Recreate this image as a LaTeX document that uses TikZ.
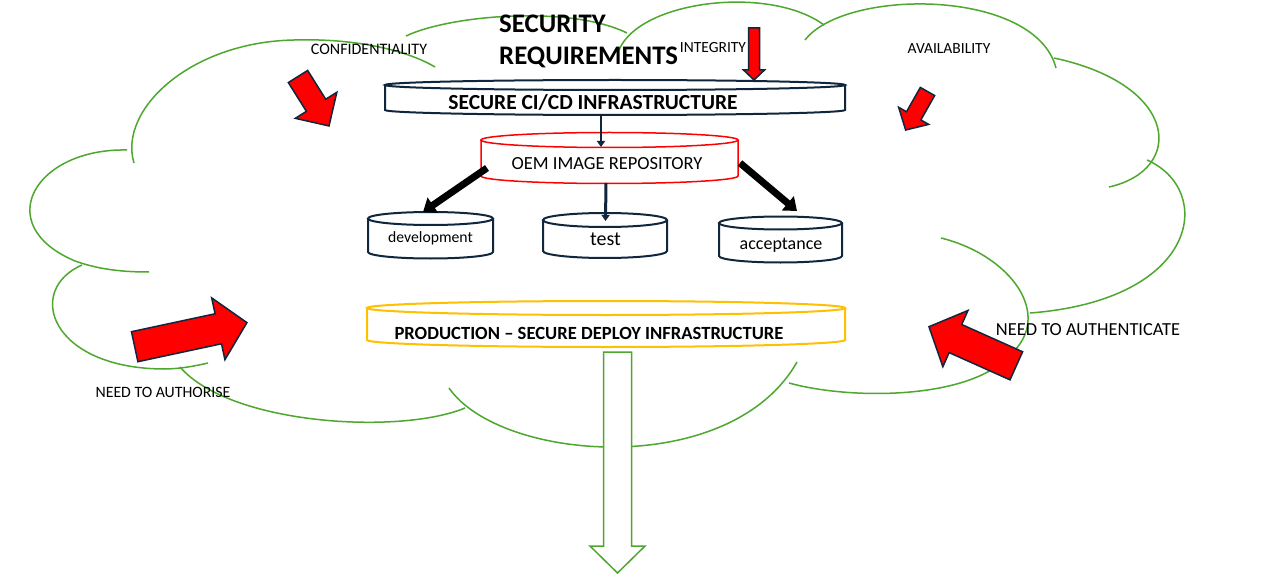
\documentclass[tikz,border=0pt]{standalone}
\usepackage{fontspec}
\setmainfont{Carlito}
\usetikzlibrary{arrows.meta,calc}
\definecolor{cloudgreen}{HTML}{4EA72E}
\definecolor{navy}{HTML}{10263D}
\definecolor{gold}{HTML}{FFC000}
% block arrow: x, y (tail centre), angle, length, shaft width, head width, head length, style
\newcommand{\blkarrow}[8]{%
  \begin{scope}[shift={(#1,#2)},rotate=#3]
    \draw[#8] (0,{-#5/2}) -- ({#4-#7},{-#5/2}) -- ({#4-#7},{-#6/2}) -- (#4,0)
      -- ({#4-#7},{#6/2}) -- ({#4-#7},{#5/2}) -- (0,{#5/2}) -- cycle;
  \end{scope}}
% cylinder around a named box node: name, half width, y radius, style
\newcommand{\drawcyl}[4]{%
  \draw[#4] (#1.north west) -- (#1.south west)
    arc[start angle=180,end angle=360,x radius=#2pt,y radius=#3pt] -- (#1.north east);
  \draw[#4] (#1.north) ellipse[x radius=#2pt,y radius=#3pt];}
\tikzset{
  cloudline/.style={draw=cloudgreen,line width=1.5pt},
  cylbox/.style={inner sep=0pt,outer sep=0pt,draw=none},
  lbl/.style={inner sep=0pt,anchor=base,text=black},
  redarrow/.style={fill=red,draw=navy,line width=1.5pt,line join=miter},
  thinnavy/.style={draw=navy,line width=2pt,-{Triangle[width=8pt,length=6pt]}},
  thickblack/.style={draw=black,line width=7pt,-{Triangle[width=18pt,length=12pt]}}
}
\begin{document}
\begin{tikzpicture}[x=1pt,y=-1pt]
\useasboundingbox (0,0) rectangle (1271,588);
\fill[white] (0,0) rectangle (1271,588);
% ---- cloud ----
\draw[cloudline] (134,163) .. controls (118,110) and (190,42) .. (294,40) .. controls (360,38) and (410,52) .. (435,67);
\draw[cloudline] (406,36) .. controls (450,15) and (570,5) .. (627,33);
\draw[cloudline] (619,50) .. controls (640,0) and (770,-15) .. (824,25);
\draw[cloudline] (805,40) .. controls (845,-12) and (1035,-12) .. (1056,68);
\draw[cloudline] (1054,58) .. controls (1180,85) and (1185,170) .. (1109,187);
\draw[cloudline] (1147,160) .. controls (1215,190) and (1200,300) .. (1030,313);
\draw[cloudline] (941,238) .. controls (1010,255) and (1055,315) .. (1010,355) .. controls (970,400) and (850,400) .. (789,383);
\draw[cloudline] (449,388) .. controls (500,462) and (730,480) .. (797,362);
\draw[cloudline] (180,367) .. controls (230,425) and (400,435) .. (465,408);
\draw[cloudline] (82,265) .. controls (25,290) and (50,368) .. (163,369) .. controls (180,369) and (195,366) .. (208,363);
\draw[cloudline] (127,150) .. controls (35,148) and (-10,225) .. (75,261) .. controls (100,270) and (125,272) .. (149,272);
% ---- cylinders ----
\node[cylbox,minimum width=460pt,minimum height=25pt] (cicd) at (615,97.5) {};
\drawcyl{cicd}{230}{5}{draw=navy,line width=2pt,fill=white}
\node[cylbox,minimum width=257pt,minimum height=36pt] (oem) at (609.5,158) {};
\drawcyl{oem}{128.5}{7.5}{draw=red,line width=1.5pt,fill=white}
\node[cylbox,minimum width=125pt,minimum height=33.5pt] (dev) at (430.5,235.25) {};
\drawcyl{dev}{62.5}{6.5}{draw=navy,line width=2pt,fill=white}
\node[cylbox,minimum width=124pt,minimum height=31pt] (test) at (605,235.5) {};
\drawcyl{test}{62}{7}{draw=navy,line width=2pt,fill=white}
\node[cylbox,minimum width=123pt,minimum height=33pt] (acc) at (780.5,239.5) {};
\drawcyl{acc}{61.5}{6.5}{draw=navy,line width=2pt,fill=white}
\node[cylbox,minimum width=478pt,minimum height=32pt] (prod) at (606,324) {};
\drawcyl{prod}{239}{7}{draw=gold,line width=2pt,fill=white}
% ---- texts ----
\node[lbl,anchor=base west,font=\bfseries\fontsize{26.8}{30}\selectfont] (sec1) at (499,33) {SECURITY};
\node[lbl,anchor=base west,font=\bfseries\fontsize{26.8}{30}\selectfont] (sec2) at (499,65) {REQUIREMENTS};
\node[lbl,font=\fontsize{16}{19}\selectfont] (conf) at (369,55) {CONFIDENTIALITY};
\node[lbl,font=\fontsize{15.5}{19}\selectfont] (integ) at (713,53) {INTEGRITY};
\node[lbl,font=\fontsize{15.5}{19}\selectfont] (avail) at (949,54) {AVAILABILITY};
\node[lbl,font=\fontsize{15.8}{19}\selectfont] (authz) at (163,397) {NEED TO AUTHORISE};
\node[lbl,font=\fontsize{18.4}{22}\selectfont] (authn) at (1088,335) {NEED TO AUTHENTICATE};
\node[lbl,font=\bfseries\fontsize{21.5}{25}\selectfont] (cicdtxt) at (593,110) {SECURE CI/CD INFRASTRUCTURE};
\node[lbl,font=\fontsize{18.5}{22}\selectfont] (oemtxt) at (607,170) {OEM IMAGE REPOSITORY};
\node[lbl,font=\fontsize{15.7}{19}\selectfont] (devtxt) at (430.5,242) {development};
\node[lbl,font=\fontsize{20}{24}\selectfont] (testtxt) at (605.5,245) {test};
\node[lbl,font=\fontsize{18}{22}\selectfont] (acctxt) at (781,249) {acceptance};
\node[lbl,font=\bfseries\fontsize{18.6}{22}\selectfont] (prodtxt) at (589,339) {PRODUCTION \textendash\ SECURE DEPLOY INFRASTRUCTURE};
% ---- connectors ----
\draw[thinnavy] ($(cicd.south)+(-14,5)$) -- ($(oem.north)+(-8.5,7)$);
\draw[thinnavy,line width=3pt] ($(oem.south)+(-3.5,7)$) -- ($(test.north)+(0.5,1)$);
\draw[thickblack] ($(oem.west)+(6,10)$) -- ($(dev.north)+(-7.5,-6.5)$);
\draw[thickblack] ($(oem.east)+(2,5)$) -- ($(acc.north)+(16.5,-12)$);
% ---- block arrows ----
\blkarrow{298}{76.5}{-57.9}{58.4}{22.8}{49}{24.4}{redarrow}
\blkarrow{754}{28}{-90}{52}{11}{21}{10}{redarrow}
\blkarrow{927.5}{91.5}{-119.6}{44.3}{16.5}{34.6}{16.3}{redarrow}
\blkarrow{134.7}{346.7}{12.1}{114.8}{30.7}{63.2}{29.3}{redarrow}
\blkarrow{1016.3}{365.8}{155.9}{95.7}{30.8}{61.6}{29}{redarrow}
\blkarrow{617.5}{352}{-90}{221}{28}{55}{27}{fill=white,draw=cloudgreen,line width=1.5pt,line join=miter}
\end{tikzpicture}
\end{document}
